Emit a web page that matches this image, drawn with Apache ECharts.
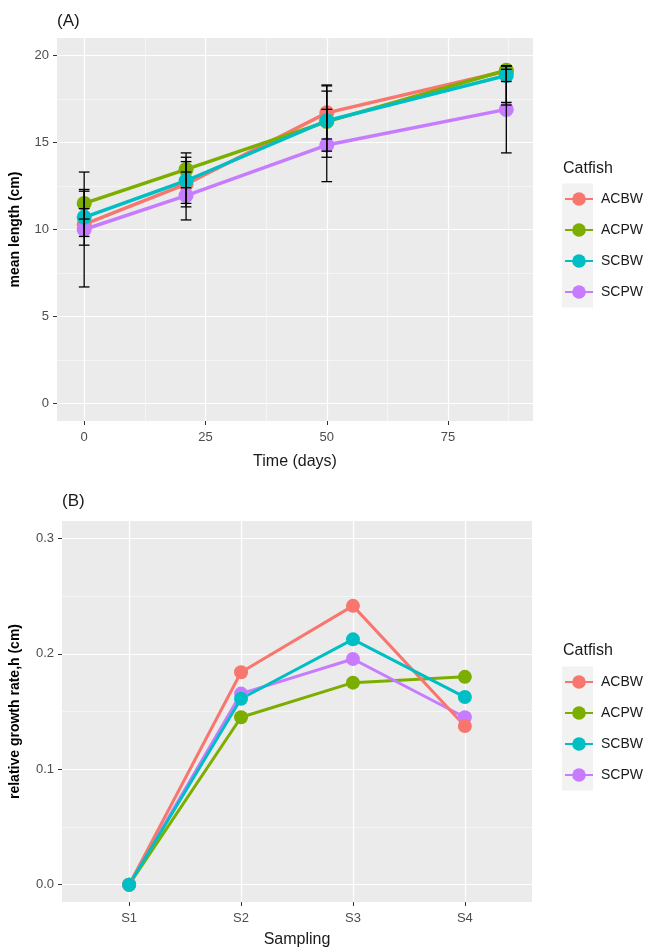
<!DOCTYPE html>
<html>
<head>
<meta charset="utf-8">
<title>Catfish growth</title>
<script src="https://cdn.jsdelivr.net/npm/echarts@6.0.0/dist/echarts.min.js"></script>
<style>
    html, body { margin: 0; padding: 0; background: #fff; }
    #myEchart { width: 652px; height: 952px; }
</style>
</head>
<body>
<div id="myEchart"></div>
<script>
var groups = ['ACBW', 'ACPW', 'SCBW', 'SCPW'];

// (A) mean length, with error bar ends
var days = [0, 21, 50, 87];
var acbwLen = [10.3, 12.6, 16.7, 19.1];
var acbwLo = [9.6, 11.3, 15.2, 17.3];
var acbwHi = [11.2, 13.9, 18.3, 19.4];
var acpwLen = [11.5, 13.45, 16.2, 19.15];
var acpwLo = [10.6, 12.4, 14.15, 17.15];
var acpwHi = [12.2, 14.4, 18.25, 19.4];
var scbwLen = [10.7, 12.8, 16.25, 18.85];
var scbwLo = [9.1, 11.5, 14.5, 18.5];
var scbwHi = [12.3, 14.15, 17.95, 19.2];
var scpwLen = [10.0, 11.95, 14.85, 16.9];
var scpwLo = [6.7, 10.55, 12.75, 14.4];
var scpwHi = [13.3, 13.3, 16.9, 19.4];

// (B) relative growth rate
var samplings = ['S1', 'S2', 'S3', 'S4'];
var acbwRate = [0, 0.184, 0.2415, 0.1375];
var acpwRate = [0, 0.145, 0.175, 0.18];
var scbwRate = [0, 0.161, 0.2125, 0.1625];
var scpwRate = [0, 0.1655, 0.1955, 0.145];

// tick positions
var dayTicks = [0, 25, 50, 75];
var dayMinor = [12.5, 37.5, 62.5, 87.5];
var lenTicks = [0, 5, 10, 15, 20];
var lenMinor = [2.5, 7.5, 12.5, 17.5];
var sampleTicks = [1, 2, 3, 4];
var rateTicks = [0, 0.1, 0.2, 0.3];
var rateMinor = [0.05, 0.15, 0.25];

var palette = ['#F8766D', '#7CAE00', '#00BFC4', '#C77CFF'];
var drawOrderA = [0, 3, 1, 2];   // which group lands on top
var drawOrderB = [1, 3, 0, 2];
var lenSets = [acbwLen, acpwLen, scbwLen, scpwLen];
var loSets = [acbwLo, acpwLo, scbwLo, scpwLo];
var hiSets = [acbwHi, acpwHi, scbwHi, scpwHi];
var rateSets = [acbwRate, acpwRate, scbwRate, scpwRate];

var FONT = '"Liberation Sans", Arial, sans-serif';
var capHalf = 1.1;

function majorAxis(grid, type, min, max, ticks, fmt, extra) {
    var ax = {
        type: 'value', gridIndex: grid, min: min, max: max,
        axisLine: {show: false, onZero: false},
        axisTick: {show: true, length: 4, customValues: ticks, lineStyle: {color: '#333', width: 1}},
        axisLabel: {show: true, customValues: ticks, color: '#4d4d4d', fontSize: 13, fontFamily: FONT,
            margin: type === 'x' ? 10 : 8, formatter: fmt},
        splitLine: {show: true, lineStyle: {color: '#fff', width: 1.2}},
        nameLocation: 'middle',
        nameMoveOverlap: false
    };
    for (var k in extra) ax[k] = extra[k];
    return ax;
}

function minorAxis(grid, min, max, ticks) {
    return {
        type: 'value', gridIndex: grid, min: min, max: max,
        axisLine: {show: false, onZero: false},
        axisTick: {show: false, customValues: ticks},
        axisLabel: {show: false},
        splitLine: {show: true, lineStyle: {color: '#fff', width: 0.5}}
    };
}

function errRender(params, api) {
    var x = api.value(0);
    var top = api.coord([x, api.value(2)]);
    var bot = api.coord([x, api.value(1)]);
    var l = api.coord([x - capHalf, api.value(2)])[0];
    var r = api.coord([x + capHalf, api.value(2)])[0];
    var st = {stroke: '#000', lineWidth: 1.3};
    return {
        type: 'group',
        children: [
            {type: 'line', shape: {x1: top[0], y1: top[1], x2: bot[0], y2: bot[1]}, style: st},
            {type: 'line', shape: {x1: l, y1: top[1], x2: r, y2: top[1]}, style: st},
            {type: 'line', shape: {x1: l, y1: bot[1], x2: r, y2: bot[1]}, style: st}
        ]
    };
}

var series = [];
drawOrderA.forEach(function (i) {
    series.push({
        name: groups[i], type: 'line', xAxisIndex: 0, yAxisIndex: 0,
        data: days.map(function (d, j) { return [d, lenSets[i][j]]; }),
        symbol: 'circle', symbolSize: 15, color: palette[i],
        lineStyle: {width: 3.5}, z: 2
    });
});
groups.forEach(function (g, i) {
    series.push({
        name: g + ' sd', type: 'custom', xAxisIndex: 0, yAxisIndex: 0,
        renderItem: errRender, z: 5,
        encode: {x: 0, y: [1, 2]},
        data: days.map(function (d, j) { return [d, loSets[i][j], hiSets[i][j]]; })
    });
});
drawOrderB.forEach(function (i) {
    series.push({
        name: groups[i], type: 'line', xAxisIndex: 2, yAxisIndex: 2,
        data: sampleTicks.map(function (s, j) { return [s, rateSets[i][j]]; }),
        symbol: 'circle', symbolSize: 14, color: palette[i],
        lineStyle: {width: 3}, z: 2
    });
});

function legendAt(top) {
    return {
        orient: 'vertical', left: 564, top: top, padding: 0,
        data: groups, itemWidth: 28, itemHeight: 17, itemGap: 17,
        textStyle: {fontSize: 14, color: '#1a1a1a', fontFamily: FONT, padding: [0, 0, 0, 3]},
        selectedMode: false
    };
}

function label(text, left, top, size) {
    return {text: text, left: left, top: top, padding: 0,
        textStyle: {fontSize: size, fontWeight: 'normal', color: '#1a1a1a', fontFamily: FONT}};
}

var chartPaper = echarts.init(document.getElementById('myEchart'));
var option = {
    animation: false,
    backgroundColor: '#fff',
    textStyle: {fontFamily: FONT},
    title: [
        label('(A)', 57, 13, 17),
        label('(B)', 62, 493, 17),
        label('Catfish', 563, 161, 16),
        label('Catfish', 563, 643, 16)
    ],
    graphic: [
        {type: 'rect', left: 562, top: 183.5, shape: {width: 31, height: 124}, style: {fill: '#f2f2f2'}, z: -1},
        {type: 'rect', left: 562, top: 666.5, shape: {width: 31, height: 124}, style: {fill: '#f2f2f2'}, z: -1}
    ],
    legend: [legendAt(192), legendAt(675)],
    grid: [
        {left: 57, right: 119, top: 38, height: 383, show: true, backgroundColor: '#ebebeb', borderWidth: 0},
        {left: 62, right: 120, top: 521, height: 381, show: true, backgroundColor: '#ebebeb', borderWidth: 0}
    ],
    xAxis: [
        majorAxis(0, 'x', -5.6, 92.5, dayTicks, null, {
            name: 'Time (days)', nameGap: 33,
            nameTextStyle: {fontSize: 16, color: '#1a1a1a', fontFamily: FONT}
        }),
        minorAxis(0, -5.6, 92.5, dayMinor),
        majorAxis(1, 'x', 0.4, 4.6, sampleTicks, function (v) { return samplings[Math.round(v) - 1]; }, {
            name: 'Sampling', nameGap: 30,
            nameTextStyle: {fontSize: 16, color: '#1a1a1a', fontFamily: FONT}
        })
    ],
    yAxis: [
        majorAxis(0, 'y', -1, 21, lenTicks, null, {
            name: 'mean length (cm)', nameGap: 35,
            nameTextStyle: {fontSize: 14, fontWeight: 'bold', color: '#000', fontFamily: FONT}
        }),
        minorAxis(0, -1, 21, lenMinor),
        majorAxis(1, 'y', -0.015, 0.315, rateTicks, function (v) { return v.toFixed(1); }, {
            name: 'relative growth rate,h (cm)', nameGap: 40,
            nameTextStyle: {fontSize: 14, fontWeight: 'bold', color: '#000', fontFamily: FONT}
        }),
        minorAxis(1, -0.015, 0.315, rateMinor)
    ],
    series: series
};
chartPaper.setOption(option);
</script>
</body>
</html>
